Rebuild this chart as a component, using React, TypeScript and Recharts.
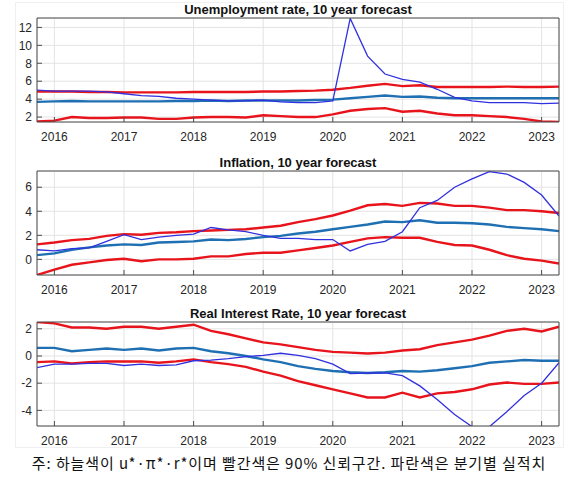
import { LineChart, Line, XAxis, YAxis, CartesianGrid } from "recharts";

// quarterly observations, 2015Q4 .. 2023Q2
const quarters = [
  2015.75, 2016, 2016.25, 2016.5, 2016.75, 2017, 2017.25, 2017.5, 2017.75, 2018,
  2018.25, 2018.5, 2018.75, 2019, 2019.25, 2019.5, 2019.75, 2020, 2020.25, 2020.5,
  2020.75, 2021, 2021.25, 2021.5, 2021.75, 2022, 2022.25, 2022.5, 2022.75, 2023,
  2023.25,
];
const yearTicks = [2016, 2017, 2018, 2019, 2020, 2021, 2022, 2023];

// unemployment
const uActual = [
  5.0, 4.9, 4.9, 4.9, 4.8, 4.6, 4.4, 4.3, 4.1, 4.0, 3.9, 3.8, 3.8, 3.9, 3.7, 3.6,
  3.6, 3.8, 13.0, 8.8, 6.8, 6.2, 5.9, 5.1, 4.2, 3.8, 3.6, 3.6, 3.6, 3.5, 3.55,
];
const uStar = [
  3.7, 3.75, 3.8, 3.75, 3.75, 3.75, 3.75, 3.75, 3.8, 3.8, 3.85, 3.8, 3.85, 3.85,
  3.85, 3.85, 3.9, 3.95, 4.1, 4.25, 4.4, 4.25, 4.3, 4.15, 4.1, 4.1, 4.1, 4.1, 4.1,
  4.1, 4.1,
];
const uUpper = [
  4.85, 4.85, 4.85, 4.8, 4.8, 4.75, 4.75, 4.75, 4.75, 4.8, 4.8, 4.8, 4.8, 4.85,
  4.85, 4.9, 4.95, 5.05, 5.25, 5.5, 5.7, 5.45, 5.55, 5.35, 5.35, 5.35, 5.35, 5.4,
  5.35, 5.35, 5.4,
];
const uLower = [
  1.5, 1.6, 2.0, 1.9, 1.9, 1.95, 1.95, 1.8, 1.8, 1.95, 2.0, 2.0, 1.95, 2.2, 2.1,
  2.0, 2.0, 2.3, 2.7, 2.9, 3.0, 2.6, 2.7, 2.4, 2.2, 2.2, 2.1, 2.0, 1.8, 1.5, 1.45,
];

// inflation
const piActual = [
  0.8, 0.7, 0.9, 0.95, 1.5, 2.05, 1.65, 1.85, 2.0, 2.1, 2.65, 2.45, 2.3, 2.0, 1.75,
  1.75, 1.65, 1.65, 0.7, 1.25, 1.5, 2.3, 4.3, 4.9, 6.0, 6.7, 7.3, 7.1, 6.4, 5.35,
  3.6,
];
const piStar = [
  0.35, 0.5, 0.8, 1.0, 1.15, 1.25, 1.2, 1.4, 1.45, 1.5, 1.65, 1.6, 1.7, 1.85, 1.95,
  2.15, 2.3, 2.5, 2.7, 2.9, 3.15, 3.1, 3.25, 3.05, 3.05, 3.0, 2.9, 2.7, 2.6, 2.5,
  2.35,
];
const piUpper = [
  1.25, 1.4, 1.6, 1.7, 1.95, 2.1, 2.05, 2.2, 2.25, 2.35, 2.4, 2.45, 2.5, 2.65, 2.8,
  3.1, 3.35, 3.65, 4.05, 4.5, 4.6, 4.45, 4.7, 4.65, 4.45, 4.45, 4.3, 4.1, 4.1, 4.0,
  3.85,
];
const piLower = [
  -1.3, -0.85, -0.45, -0.25, -0.05, 0.05, -0.15, 0.0, 0.0, 0.05, 0.25, 0.25, 0.45,
  0.55, 0.55, 0.75, 0.95, 1.15, 1.45, 1.75, 1.85, 1.8, 1.8, 1.45, 1.2, 1.15, 0.8,
  0.35, 0.05, -0.1, -0.35,
];

// real interest rate
const rActual = [
  -0.85, -0.6, -0.6, -0.55, -0.55, -0.7, -0.6, -0.7, -0.65, -0.35, -0.3, -0.2,
  -0.05, 0.05, 0.2, 0.05, -0.2, -0.6, -1.3, -1.25, -1.25, -1.45, -2.2, -3.2, -4.3,
  -5.2, -5.2, -4.1, -2.9, -2.0, -0.5,
];
const rStar = [
  0.6, 0.6, 0.35, 0.45, 0.55, 0.45, 0.55, 0.4, 0.55, 0.6, 0.35, 0.2, 0.0, -0.25,
  -0.45, -0.75, -0.95, -1.1, -1.2, -1.25, -1.2, -1.1, -1.15, -1.05, -0.9, -0.75,
  -0.5, -0.4, -0.3, -0.35, -0.35,
];
const rUpper = [
  2.5, 2.4, 2.1, 2.1, 2.0, 2.15, 2.15, 2.0, 2.15, 2.3, 1.85, 1.6, 1.3, 1.0, 0.85,
  0.65, 0.45, 0.3, 0.25, 0.18, 0.25, 0.4, 0.5, 0.8, 1.0, 1.2, 1.5, 1.85, 2.0, 1.8,
  2.15,
];
const rLower = [
  -0.45, -0.4, -0.55, -0.45, -0.4, -0.4, -0.4, -0.5, -0.4, -0.25, -0.45, -0.6, -0.8,
  -1.15, -1.45, -1.85, -2.15, -2.45, -2.75, -3.05, -3.05, -2.7, -3.05, -2.75, -2.65,
  -2.45, -2.1, -1.95, -2.05, -2.05, -1.95,
];

const RED = "#e8141c";
const STAR = "#1f6fb3";
const ACTUAL = "#3030e0";
const AXIS = "#4d4d4d";
const FONT = "'Liberation Sans', Arial, sans-serif";

type PanelProps = {
  title: string;
  top: number;
  actual: number[];
  star: number[];
  upper: number[];
  lower: number[];
  domain: [number, number];
  ticks: number[];
};

function Panel({ title, top, actual, star, upper, lower, domain, ticks }: PanelProps) {
  const data = quarters.map((x, i) => ({
    x,
    actual: actual[i],
    star: star[i],
    upper: upper[i],
    lower: lower[i],
  }));
  const tickStyle = { fontSize: 12, fill: "#262626", fontFamily: FONT };

  return (
    <div style={{ position: "absolute", left: 0, top, width: 578, height: 145 }}>
      <div
        style={{
          position: "absolute",
          left: 37,
          width: 522,
          top: 1,
          height: 18,
          lineHeight: "18px",
          textAlign: "center",
          fontFamily: FONT,
          fontWeight: "bold",
          fontSize: 13,
          color: "#111",
        }}
      >
        {title}
      </div>
      <LineChart
        width={578}
        height={145}
        data={data}
        margin={{ top: 17, right: 18, left: 0, bottom: 0 }}
      >
        <CartesianGrid stroke="#e3e3e3" strokeWidth={1} />
        <XAxis
          dataKey="x"
          type="number"
          domain={[2015.75, 2023.25]}
          ticks={yearTicks}
          interval={0}
          height={23}
          tickSize={-5}
          tickMargin={15}
          tick={tickStyle}
          stroke={AXIS}
          allowDataOverflow
        />
        <XAxis
          xAxisId="top"
          orientation="top"
          dataKey="x"
          type="number"
          domain={[2015.75, 2023.25]}
          ticks={yearTicks}
          interval={0}
          height={1}
          tickSize={-5}
          tick={false}
          stroke={AXIS}
          allowDataOverflow
        />
        <YAxis
          type="number"
          domain={domain}
          ticks={ticks}
          interval={0}
          width={37}
          tickSize={-5}
          tickMargin={10}
          tick={tickStyle}
          stroke={AXIS}
          allowDataOverflow
        />
        <YAxis
          yAxisId="r"
          orientation="right"
          type="number"
          domain={domain}
          ticks={ticks}
          interval={0}
          width={1}
          tickSize={-5}
          tick={false}
          stroke={AXIS}
          allowDataOverflow
        />
        <Line dataKey="star" stroke={STAR} strokeWidth={2.4} dot={false} isAnimationActive={false} />
        <Line dataKey="upper" stroke={RED} strokeWidth={2.4} dot={false} isAnimationActive={false} />
        <Line dataKey="lower" stroke={RED} strokeWidth={2.4} dot={false} isAnimationActive={false} />
        <Line dataKey="actual" stroke={ACTUAL} strokeWidth={1.3} dot={false} isAnimationActive={false} />
      </LineChart>
    </div>
  );
}

export default function App() {
  return (
    <div
      style={{
        position: "absolute",
        left: 0,
        top: 0,
        width: 578,
        height: 484,
        background: "#fff",
      }}
    >
      <div
        style={{
          position: "absolute",
          left: 15,
          top: 2,
          width: 547,
          height: 444,
          border: "1px solid #f0f0f0",
        }}
      />
      <Panel
        title="Unemployment rate, 10 year forecast"
        top={0}
        actual={uActual}
        star={uStar}
        upper={uUpper}
        lower={uLower}
        domain={[1.45, 13.05]}
        ticks={[2, 4, 6, 8, 10, 12]}
      />
      <Panel
        title="Inflation, 10 year forecast"
        top={153}
        actual={piActual}
        star={piStar}
        upper={piUpper}
        lower={piLower}
        domain={[-1.3, 7.35]}
        ticks={[0, 2, 4, 6]}
      />
      <Panel
        title="Real Interest Rate, 10 year forecast"
        top={304}
        actual={rActual}
        star={rStar}
        upper={rUpper}
        lower={rLower}
        domain={[-5.15, 2.5]}
        ticks={[-4, -2, 0, 2]}
      />
      <div
        style={{
          position: "absolute",
          left: 0,
          width: 578,
          top: 453,
          height: 20,
          lineHeight: "20px",
          textAlign: "center",
          fontFamily: "'Noto Sans CJK KR', sans-serif",
          fontSize: 15,
          letterSpacing: 0.9,
          color: "#111",
        }}
      >
        주: 하늘색이 u*·π*·r*이며 빨간색은 90% 신뢰구간. 파란색은 분기별 실적치
      </div>
    </div>
  );
}
